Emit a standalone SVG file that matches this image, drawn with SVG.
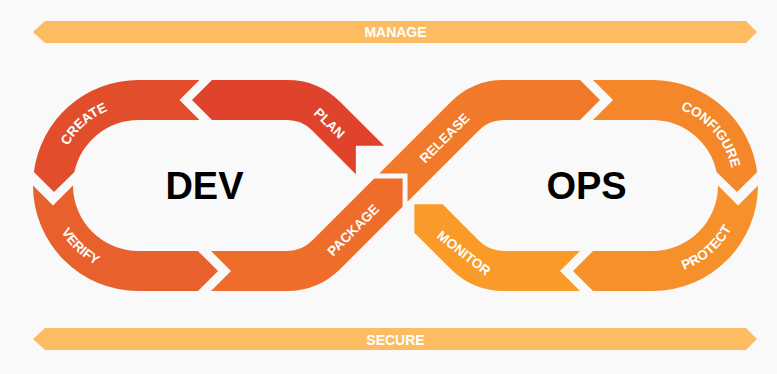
<svg xmlns="http://www.w3.org/2000/svg" width="777" height="374" viewBox="0 0 777 374">
<style>
.bar{fill:#FEBC62}
.barlbl{font-family:"Liberation Sans",Arial,sans-serif;font-weight:bold;font-size:14px;fill:#fff;text-anchor:middle}
.lbl{font-family:"Liberation Sans",Arial,sans-serif;font-weight:bold;font-size:13.5px;fill:#fff;text-anchor:middle}
.big{font-family:"Liberation Sans",Arial,sans-serif;font-weight:bold;font-size:38px;fill:#000;text-anchor:middle}
</style>
<defs>
<path id="pCreate" d="M59.25,201.77 A80.9,80.9 0 0 1 164.04,108.73"/>
<path id="pVerify" d="M50.87,164.31 A90.15,90.15 0 0 0 163.95,271.98"/>
<path id="pConfigure" d="M637.06,106.09 A80.9,80.9 0 0 1 728.99,211.84"/>
<path id="pProtect" d="M623.15,270.74 A90.15,90.15 0 0 0 740.99,168.3"/>
</defs>
<rect width="777" height="374" fill="#F9F9F9"/>

<g id="manage">
<polygon class="bar" points="33,32 45,21 746,21 757,32 746,43 45,43"/>
<text class="barlbl" x="395.5" y="37.3">MANAGE</text>
</g>
<g id="secure">
<polygon class="bar" points="33,339 45,328 746,328 757,339 746,350 45,350"/>
<text class="barlbl" x="395.5" y="344.8">SECURE</text>
</g>

<g id="plan">
<path fill="#E0432B" d="M192,100 L212,80 L287.2,80 A75,75 0 0 1 340.23,101.97 L384.14,145.86 L355.86,145.86 L355.86,174.14 L311.95,130.25 A35,35 0 0 0 287.2,120 L212,120 Z"/>
<text class="lbl" transform="translate(329.5,123) rotate(44)" y="4.8">PLAN</text>
</g>
<g id="create">
<path fill="#E24E2B" d="M199.5,80 L138.5,80 A105.5,105.5 0 0 0 33.87,172 L54,192 L74.41,172 A65.5,65.5 0 0 1 138.5,120 L199.5,120 L179.5,100 Z"/>
<text class="lbl"><textPath href="#pCreate" startOffset="50%">CREATE</textPath></text>
</g>
<g id="verify">
<path fill="#E8602C" d="M33,185.5 A105.5,105.5 0 0 0 138.5,291 L198,291 L218,271 L198,251 L138.5,251 A65.5,65.5 0 0 1 73,185.5 L53,205.5 Z"/>
<text class="lbl"><textPath href="#pVerify" startOffset="50%">VERIFY</textPath></text>
</g>
<g id="package">
<path fill="#EE6D2B" d="M211,251 L287.2,251 A35,35 0 0 0 311.95,240.75 L374.29,178.43 L402.57,178.43 L402.57,206.71 L340.23,269.03 A75,75 0 0 1 287.2,291 L211,291 L231,271 Z"/>
<text class="lbl" transform="translate(353,230) rotate(-45)" y="4.8">PACKAGE</text>
</g>
<g id="release">
<path fill="#F07A2A" d="M379.24,173.48 L450.77,101.97 A75,75 0 0 1 503.8,80 L580,80 L600,100 L580,120 L503.8,120 A35,35 0 0 0 479.05,130.25 L407.52,201.76 L407.52,173.48 Z"/>
<text class="lbl" transform="translate(444.5,138) rotate(-45)" y="4.8">RELEASE</text>
</g>
<g id="configure">
<path fill="#F3872A" d="M593,80 L652.5,80 A105.5,105.5 0 0 1 757.13,172 L737,192 L716.59,172 A65.5,65.5 0 0 0 652.5,120 L593,120 L613,100 Z"/>
<text class="lbl"><textPath href="#pConfigure" startOffset="50%">CONFIGURE</textPath></text>
</g>
<g id="protect">
<path fill="#F6902A" d="M758,185.5 A105.5,105.5 0 0 1 652.5,291 L593,291 L573,271 L593,251 L652.5,251 A65.5,65.5 0 0 0 718,185.5 L738,205.5 Z"/>
<text class="lbl"><textPath href="#pProtect" startOffset="50%">PROTECT</textPath></text>
</g>
<g id="monitor">
<path fill="#F99A29" d="M414.36,204.36 L442.64,204.36 L479.05,240.75 A35,35 0 0 0 503.8,251 L580,251 L560,271 L580,291 L503.8,291 A75,75 0 0 1 450.77,269.03 L414.36,232.64 Z"/>
<text class="lbl" transform="translate(464,253) rotate(38)" y="4.8">MONITOR</text>
</g>

<g id="dev"><text class="big" x="204.5" y="198.5">DEV</text></g>
<g id="ops"><text class="big" x="586.5" y="198.5">OPS</text></g>
<g id="connectors"/>
</svg>
